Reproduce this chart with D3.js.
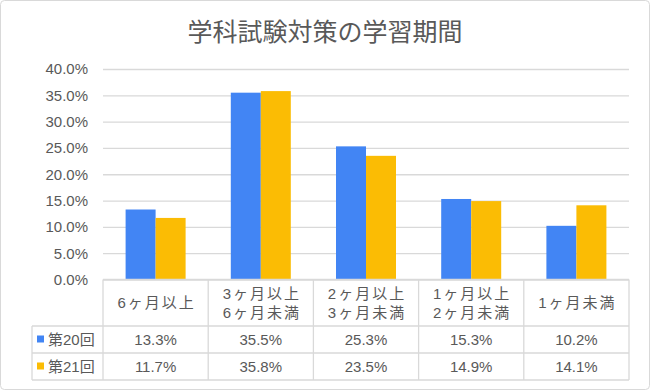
<!DOCTYPE html>
<html>
<head>
<meta charset="utf-8">
<script src="https://cdn.jsdelivr.net/npm/d3@7"></script>
<style>
  body { margin: 0; background: #fff; }
  text { font-family: "Liberation Sans", "Noto Sans CJK JP", sans-serif; fill: #595959; }
</style>
</head>
<body>
<script>
// chart data
var categories = [["6ヶ月以上"], ["3ヶ月以上", "6ヶ月未満"], ["2ヶ月以上", "3ヶ月未満"], ["1ヶ月以上", "2ヶ月未満"], ["1ヶ月未満"]];
var seriesNames = ["第20回", "第21回"];
var round20 = [0.133, 0.355, 0.253, 0.153, 0.102];
var round21 = [0.117, 0.358, 0.235, 0.149, 0.141];
var yTicks = [0, 0.05, 0.10, 0.15, 0.20, 0.25, 0.30, 0.35, 0.40];
var colors = ["#4285F4", "#FBBC04"];

var W = 650, H = 390;
var plotLeft = 103, plotRight = 629, plotTop = 69, base = 279.5;
var tableLeft = 32, row1 = 326, row2 = 353, tableBottom = 380;
var gridColor = "#d9d9d9";

var svg = d3.select("body").append("svg")
  .attr("width", W).attr("height", H);

// outer frame
svg.append("rect")
  .attr("x", 0.5).attr("y", 0.5)
  .attr("width", W - 1).attr("height", H - 1)
  .attr("rx", 4)
  .style("fill", "#fff").style("stroke", "#d9d9d9");

svg.append("text")
  .attr("x", 325).attr("y", 41)
  .attr("text-anchor", "middle")
  .style("font-family", "'Noto Sans CJK JP', sans-serif")
  .style("font-size", "25px")
  .text("学科試験対策の学習期間");

var keys = categories.map(function(d) { return d.join(""); });

var xScale = d3.scaleBand().domain(keys).range([plotLeft, plotRight]);
var inner = d3.scaleBand().domain([0, 1]).range([0, 60]);
var yScale = d3.scaleLinear().domain([0, 0.4]).range([base, plotTop]);
var fmt = d3.format(".1%");

// y axis with gridlines
var yAxis = d3.axisLeft(yScale)
  .tickValues(yTicks)
  .tickFormat(fmt)
  .tickSize(-(plotRight - plotLeft))
  .tickPadding(15);

var yGuide = svg.append("g").attr("transform", "translate(" + plotLeft + ",0)");
yAxis(yGuide);
yGuide.select(".domain").remove();
yGuide.selectAll("line").style("stroke", gridColor).style("stroke-width", 1.3);
yGuide.selectAll("text")
  .style("font-size", "15px")
  .style("fill", "#595959")
  .style("font-family", "'Liberation Sans', sans-serif");

// bars
var series = [round20, round21];
series.forEach(function(vals, s) {
  svg.append("g").selectAll("rect")
    .data(vals)
    .enter()
    .append("rect")
    .attr("x", function(d, i) { return xScale(keys[i]) + xScale.bandwidth() / 2 - 30 + inner(s); })
    .attr("y", function(d) { return yScale(d); })
    .attr("width", inner.bandwidth())
    .attr("height", function(d) { return base - yScale(d); })
    .style("fill", colors[s]);
});

// data table lines
var tbl = svg.append("g").style("stroke", gridColor).style("stroke-width", 1.3);
tbl.append("line").attr("x1", plotLeft).attr("x2", plotRight).attr("y1", base).attr("y2", base);
[row1, row2, tableBottom].forEach(function(y) {
  tbl.append("line").attr("x1", tableLeft).attr("x2", plotRight).attr("y1", y).attr("y2", y);
});
tbl.append("line").attr("x1", tableLeft).attr("x2", tableLeft).attr("y1", row1).attr("y2", tableBottom);
keys.forEach(function(k) {
  tbl.append("line").attr("x1", xScale(k)).attr("x2", xScale(k)).attr("y1", base).attr("y2", tableBottom);
});
tbl.append("line").attr("x1", plotRight).attr("x2", plotRight).attr("y1", base).attr("y2", tableBottom);

// category labels
var catG = svg.append("g");
categories.forEach(function(lines, i) {
  var cx = xScale(keys[i]) + xScale.bandwidth() / 2;
  var y0 = lines.length == 1 ? 308 : 299;
  lines.forEach(function(t, j) {
    catG.append("text")
      .attr("x", cx + 1).attr("y", y0 + j * 19)
      .attr("text-anchor", "middle")
      .style("font-size", "15px")
      .style("letter-spacing", "2px")
      .text(t);
  });
});

// series rows
var rowY = [row1, row2];
series.forEach(function(vals, s) {
  var cy = rowY[s] + 13.5;
  svg.append("rect")
    .attr("x", 37).attr("y", cy - 4)
    .attr("width", 7).attr("height", 7)
    .style("fill", colors[s]);
  svg.append("text")
    .attr("x", 48).attr("y", cy + 5)
    .style("font-size", "15px")
    .text(seriesNames[s]);
  svg.append("g").selectAll("text")
    .data(vals)
    .enter()
    .append("text")
    .attr("x", function(d, i) { return xScale(keys[i]) + xScale.bandwidth() / 2; })
    .attr("y", cy + 5)
    .attr("text-anchor", "middle")
    .style("font-size", "15px")
    .text(function(d) { return fmt(d); });
});
</script>
</body>
</html>
